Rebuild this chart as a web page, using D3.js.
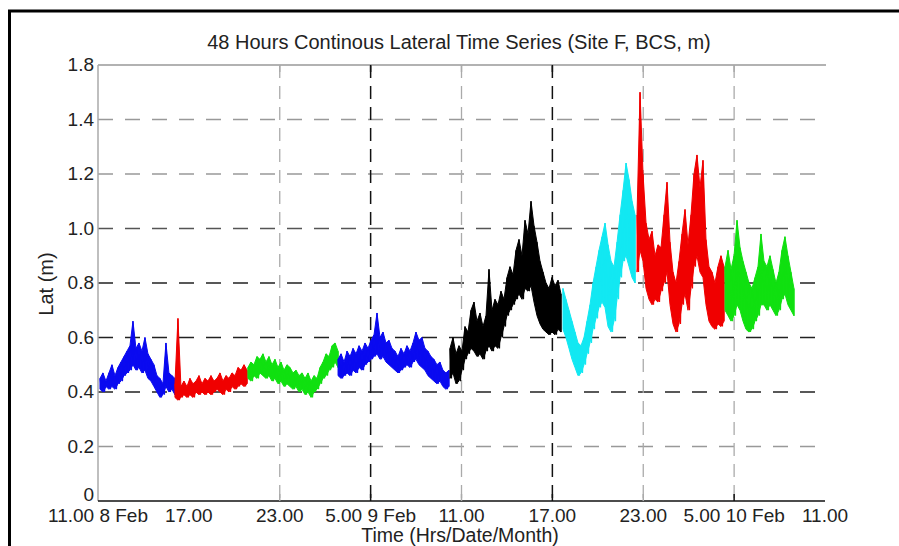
<!DOCTYPE html>
<html>
<head>
<meta charset="utf-8">
<script src="https://cdn.jsdelivr.net/npm/d3@7"></script>
<style>
  html, body { margin: 0; padding: 0; background: #fff; }
  svg { display: block; font-family: "Liberation Sans", Arial, sans-serif; }
</style>
</head>
<body>
<svg id="chart" width="899" height="546"></svg>
<script>
// Hours elapsed since 11.00 on 8 Feb
const xTickHours = [0, 6, 12, 18, 24, 30, 36, 42, 48];
const xTickLabels = ["11.00 8 Feb", "17.00", "23.00", "5.00 9 Feb", "11.00", "17.00", "23.00", "5.00 10 Feb", "11.00"];
const yTickValues = [0, 0.2, 0.4, 0.6, 0.8, 1.0, 1.2, 1.4, 1.6];
const yTickLabels = ["0", "0.2", "0.4", "0.6", "0.8", "1.0", "1.2", "1.4", "1.8"];

// Recording blocks: colour, start hour, end hour
const blockColors = ["#0a0af0", "#f00000", "#10e010", "#0a0af0", "#000000", "#12e8f2", "#f00000", "#10e010"];
const blockStart = [0.13, 5.08, 9.90, 15.85, 23.24, 30.70, 35.59, 41.40];
const blockEnd   = [5.08, 9.84, 15.85, 23.17, 30.57, 35.46, 41.33, 45.95];

// Lateral displacement (m): upper and lower swing of each sampling interval
const hi1 = [0.45,0.47,0.44,0.47,0.50,0.46,0.49,0.51,0.53,0.55,0.57,0.66,0.56,0.58,0.55,0.60,0.54,0.52,0.50,0.46,
             0.45,0.43,0.58,0.47,0.46,0.45];
const lo1 = [0.41,0.40,0.42,0.41,0.42,0.41,0.43,0.44,0.46,0.47,0.48,0.50,0.48,0.49,0.47,0.48,0.45,0.44,0.42,0.40,
             0.38,0.39,0.42,0.40,0.41,0.39];
const hi2 = [0.43,0.67,0.42,0.44,0.42,0.45,0.43,0.44,0.46,0.43,0.45,0.44,0.46,0.44,0.45,0.47,0.44,0.46,0.45,0.47,
             0.46,0.49,0.48,0.50,0.48];
const lo2 = [0.38,0.37,0.38,0.39,0.38,0.39,0.38,0.40,0.39,0.40,0.39,0.40,0.39,0.40,0.41,0.40,0.39,0.41,0.40,0.42,
             0.41,0.42,0.43,0.42,0.43];
const hi3 = [0.49,0.51,0.50,0.53,0.52,0.54,0.51,0.53,0.50,0.52,0.49,0.51,0.48,0.50,0.49,0.47,0.48,0.46,0.47,0.45,
             0.47,0.44,0.46,0.45,0.49,0.51,0.54,0.53,0.57,0.58,0.55];
const lo3 = [0.45,0.44,0.46,0.45,0.47,0.46,0.45,0.46,0.44,0.45,0.43,0.44,0.42,0.43,0.42,0.41,0.42,0.40,0.41,0.39,
             0.40,0.38,0.40,0.41,0.43,0.45,0.46,0.48,0.49,0.51,0.49];
const hi4 = [0.52,0.54,0.51,0.55,0.53,0.56,0.54,0.57,0.55,0.58,0.56,0.59,0.61,0.69,0.60,0.62,0.58,0.59,0.56,0.55,
             0.53,0.56,0.54,0.57,0.55,0.58,0.62,0.59,0.60,0.56,0.55,0.53,0.52,0.50,0.51,0.48,0.47,0.48];
const lo4 = [0.46,0.45,0.46,0.47,0.46,0.48,0.47,0.49,0.48,0.50,0.51,0.52,0.53,0.54,0.52,0.53,0.51,0.50,0.49,0.48,
             0.47,0.48,0.49,0.50,0.49,0.51,0.52,0.50,0.49,0.48,0.46,0.45,0.44,0.43,0.44,0.42,0.41,0.42];
const hi5 = [0.56,0.60,0.54,0.57,0.55,0.64,0.62,0.70,0.73,0.66,0.69,0.64,0.68,0.85,0.70,0.74,0.72,0.77,0.74,0.82,
             0.86,0.83,0.92,0.96,0.90,1.03,0.98,1.10,1.01,0.95,0.88,0.84,0.80,0.78,0.82,0.79,0.81,0.76];
const lo5 = [0.45,0.47,0.43,0.44,0.48,0.52,0.54,0.56,0.55,0.53,0.54,0.52,0.55,0.57,0.55,0.57,0.56,0.60,0.64,0.68,
             0.70,0.72,0.74,0.76,0.74,0.78,0.77,0.79,0.73,0.68,0.65,0.63,0.62,0.61,0.62,0.61,0.63,0.62];
const hi6 = [0.78,0.74,0.70,0.66,0.62,0.58,0.57,0.60,0.66,0.72,0.80,0.86,0.92,0.97,1.02,0.94,0.88,0.86,0.95,1.05,
             1.14,1.24,1.18,1.10,1.05];
const lo6 = [0.63,0.60,0.56,0.52,0.49,0.46,0.47,0.50,0.54,0.58,0.63,0.67,0.71,0.73,0.71,0.64,0.62,0.66,0.74,0.82,
             0.88,0.90,0.86,0.82,0.80];
const hi7 = [1.05,1.50,1.20,1.02,0.96,0.99,0.90,0.94,0.93,1.05,1.17,0.95,0.84,0.80,0.88,0.98,1.07,0.94,1.05,1.20,
             1.27,1.15,1.25,0.96,0.86,0.84,0.80,0.86,0.90,0.86];
const lo7 = [0.84,0.92,0.88,0.78,0.74,0.72,0.74,0.73,0.77,0.80,0.84,0.72,0.65,0.62,0.65,0.72,0.76,0.70,0.78,0.86,
             0.90,0.84,0.82,0.72,0.66,0.64,0.63,0.65,0.64,0.66];
const hi8 = [0.86,0.92,0.85,0.90,1.03,0.93,0.88,0.84,0.80,0.78,0.82,0.86,0.98,0.88,0.86,0.90,0.85,0.80,0.84,0.92,
             0.97,0.90,0.84,0.78];
const lo8 = [0.70,0.68,0.66,0.68,0.72,0.70,0.66,0.63,0.62,0.63,0.66,0.68,0.72,0.72,0.70,0.72,0.70,0.68,0.70,0.74,
             0.76,0.72,0.70,0.68];

const blockHi = [hi1, hi2, hi3, hi4, hi5, hi6, hi7, hi8];
const blockLo = [lo1, lo2, lo3, lo4, lo5, lo6, lo7, lo8];

const svg = d3.select("#chart");
const plot = { left: 98, right: 825, top: 65, bottom: 501 };

const x = d3.scaleLinear().domain([0, 48]).range([plot.left, plot.right]);
const y = d3.scaleLinear().domain([0, 1.6]).range([plot.bottom, plot.top]);

// Page frame
svg.append("line").attr("x1", 8).attr("x2", 899).attr("y1", 11).attr("y2", 11)
  .attr("stroke", "#000").attr("stroke-width", 3);
svg.append("line").attr("x1", 9.5).attr("x2", 9.5).attr("y1", 10).attr("y2", 546)
  .attr("stroke", "#000").attr("stroke-width", 3);

// Horizontal grid
const darkRows = new Set([0.4, 0.6, 0.8]);
svg.append("g").selectAll("line")
  .data(yTickValues.filter(v => v > 0 && v < 1.6))
  .join("line")
  .attr("x1", plot.left).attr("x2", plot.right)
  .attr("y1", d => y(d)).attr("y2", d => y(d))
  .attr("stroke", d => darkRows.has(d) ? "#222" : (d === 1.0 ? "#555" : "#999"))
  .attr("stroke-width", 1.3)
  .attr("stroke-dasharray", "15,12");

// Vertical grid
const darkCols = new Set([18, 30]);
svg.append("g").selectAll("line")
  .data(xTickHours.filter(h => h >= 12 && h < 48))
  .join("line")
  .attr("x1", d => x(d)).attr("x2", d => x(d))
  .attr("y1", plot.top).attr("y2", plot.bottom)
  .attr("stroke", d => darkCols.has(d) ? "#111" : "#aaa")
  .attr("stroke-width", d => darkCols.has(d) ? 1.5 : 1.3)
  .attr("stroke-dasharray", "13,8");

// Series blocks: filled swing envelope with a jagged zigzag trace through it
const band = d3.area().x(d => x(d.t)).y0(d => y(d.lo)).y1(d => y(d.hi));
const trace = d3.line().x(d => x(d[0])).y(d => y(d[1]));
blockHi.forEach((his, i) => {
  const los = blockLo[i];
  const t = d3.scaleLinear().domain([0, his.length - 1]).range([blockStart[i], blockEnd[i]]);
  const pts = his.map((h, k) => ({ t: t(k), hi: h, lo: los[k] }));
  const half = (blockEnd[i] - blockStart[i]) / (his.length - 1) / 2;
  const zig = [];
  pts.forEach((p, k) => {
    zig.push([p.t, p.hi]);
    if (k < pts.length - 1) zig.push([p.t + half, p.lo]);
    else zig.push([p.t, p.lo]);
  });
  svg.append("path")
    .datum(pts)
    .attr("fill", blockColors[i])
    .attr("stroke", blockColors[i])
    .attr("stroke-width", 1)
    .attr("stroke-linejoin", "round")
    .attr("d", band);
  svg.append("path")
    .datum(zig)
    .attr("fill", "none")
    .attr("stroke", blockColors[i])
    .attr("stroke-width", 1.2)
    .attr("d", trace);
});

// Axes lines
svg.append("line").attr("x1", plot.left).attr("x2", plot.right + 1)
  .attr("y1", plot.top).attr("y2", plot.top).attr("stroke", "#999").attr("stroke-width", 1.5);
svg.append("line").attr("x1", plot.left).attr("x2", plot.left)
  .attr("y1", plot.top).attr("y2", plot.bottom).attr("stroke", "#aaa").attr("stroke-width", 1.5);
svg.append("line").attr("x1", plot.left).attr("x2", plot.right)
  .attr("y1", plot.bottom).attr("y2", plot.bottom).attr("stroke", "#111").attr("stroke-width", 1.5);

// Tick marks on top and bottom edges
const tickHours = xTickHours.filter(h => h >= 12 && h < 48);
svg.append("g").selectAll("line").data(tickHours).join("line")
  .attr("x1", d => x(d)).attr("x2", d => x(d))
  .attr("y1", plot.bottom - 7).attr("y2", plot.bottom)
  .attr("stroke", d => darkCols.has(d) || d === 42 ? "#111" : "#aaa").attr("stroke-width", 1.5);
svg.append("g").selectAll("line").data(tickHours).join("line")
  .attr("x1", d => x(d)).attr("x2", d => x(d))
  .attr("y1", plot.top).attr("y2", plot.top + 7)
  .attr("stroke", d => darkCols.has(d) ? "#111" : "#aaa").attr("stroke-width", 1.5);

// Tick labels
svg.append("g").selectAll("text").data(yTickValues).join("text")
  .attr("x", 94).attr("y", d => Math.min(y(d) + 6, plot.bottom))
  .attr("text-anchor", "end")
  .attr("font-size", 19).attr("fill", "#222")
  .text((d, i) => yTickLabels[i]);

svg.append("g").selectAll("text").data(xTickHours).join("text")
  .attr("x", d => x(d)).attr("y", 522)
  .attr("text-anchor", "middle")
  .attr("font-size", 19).attr("fill", "#222")
  .text((d, i) => xTickLabels[i]);

// Titles
svg.append("text").attr("x", 459).attr("y", 49).attr("text-anchor", "middle")
  .attr("font-size", 20).attr("fill", "#222")
  .text("48 Hours Continous Lateral Time Series (Site F, BCS, m)");
svg.append("text").attr("x", 460).attr("y", 542).attr("text-anchor", "middle")
  .attr("font-size", 19.5).attr("fill", "#222")
  .text("Time (Hrs/Date/Month)");
svg.append("text").attr("transform", "translate(53,284) rotate(-90)")
  .attr("text-anchor", "middle")
  .attr("font-size", 20).attr("fill", "#222")
  .text("Lat (m)");
</script>
</body>
</html>
